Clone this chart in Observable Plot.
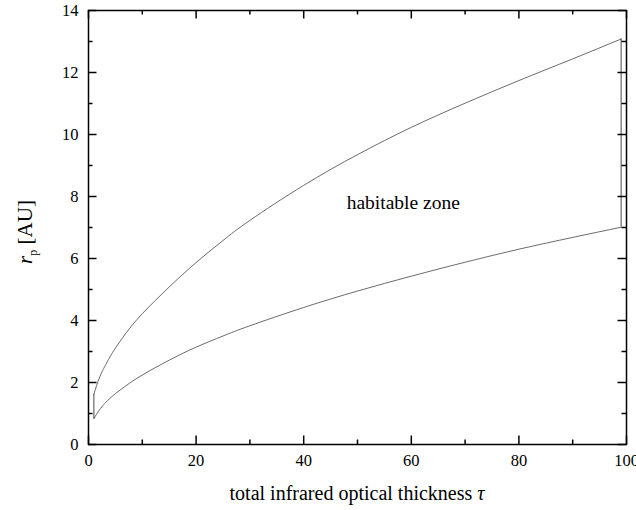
<!DOCTYPE html>
<html><head><meta charset="utf-8">
<script src="https://cdn.jsdelivr.net/npm/d3@7"></script>
<script src="https://cdn.jsdelivr.net/npm/@observablehq/plot@0.6"></script>
<style>body{margin:0;background:#fff}</style>
</head><body><div id="chart"></div>
<script>
// optical thickness samples
const tau = [1, 1.5, 2, 2.5, 3, 4, 5, 7, 10, 15, 20, 25, 30, 40, 50, 60, 70, 80, 90, 99];
// outer (upper) edge of habitable zone [AU]
const rOuter = [1.62, 1.90, 2.14, 2.34, 2.51, 2.83, 3.11, 3.60, 4.22, 5.08, 5.87, 6.58, 7.23, 8.36, 9.35, 10.23, 11.01, 11.74, 12.44, 13.08];
// inner (lower) edge of habitable zone [AU]
const rInner = [0.83, 0.98, 1.11, 1.22, 1.32, 1.49, 1.64, 1.90, 2.24, 2.72, 3.14, 3.50, 3.83, 4.42, 4.95, 5.43, 5.88, 6.30, 6.68, 7.01];
const xMajor = [0, 20, 40, 60, 80, 100];
const xMinor = [10, 30, 50, 70, 90];
const yMajor = [0, 2, 4, 6, 8, 10, 12, 14];
const yMinor = [1, 3, 5, 7, 9, 11, 13];
const zoneLabel = [{tau: 58.5, r: 7.8, text: "habitable zone"}];
const xTitle = "total infrared optical thickness ";
const xSymbol = "τ";
const yTitleVar = "r";
const yTitleSub = "p";
const yTitleUnit = " [AU]";

const W = 636, H = 510, mL = 88, mR = 10, mT = 10, mB = 66;
const pw = W - mL - mR, ph = H - mT - mB;
const major = 8.5, minor = 4.5;
const outer = tau.map((t, i) => ({tau: t, r: rOuter[i]}));
const inner = tau.map((t, i) => ({tau: t, r: rInner[i]}));
const ends = [0, tau.length - 1].map(i => ({tau: tau[i], lo: rInner[i], hi: rOuter[i]}));
const lineColor = "#5a5a5a";
const font = "'Liberation Serif', 'Times New Roman', serif";

const chart = Plot.plot({
  width: W, height: H,
  marginLeft: mL, marginRight: mR, marginTop: mT, marginBottom: mB,
  style: {fontFamily: font, fontSize: "16.5px", color: "#000", background: "#fff"},
  x: {domain: [0, 100]},
  y: {domain: [0, 14]},
  marks: [
    Plot.line(outer, {x: "tau", y: "r", stroke: lineColor, strokeWidth: 0.9, curve: "natural"}),
    Plot.line(inner, {x: "tau", y: "r", stroke: lineColor, strokeWidth: 0.9, curve: "natural"}),
    Plot.ruleX(ends, {x: "tau", y1: "lo", y2: "hi", stroke: "#333", strokeWidth: 0.9}),
    Plot.text(zoneLabel, {x: "tau", y: "r", text: "text", fontSize: 19.5, fill: "#000"}),
    // inward ticks: bottom
    Plot.tickX(xMajor, {x: d => d, insetTop: ph - major, stroke: "#000", strokeWidth: 1.5}),
    Plot.tickX(xMinor, {x: d => d, insetTop: ph - minor, stroke: "#000", strokeWidth: 1.5}),
    // top
    Plot.tickX(xMajor, {x: d => d, insetBottom: ph - major, stroke: "#000", strokeWidth: 1.5}),
    Plot.tickX(xMinor, {x: d => d, insetBottom: ph - minor, stroke: "#000", strokeWidth: 1.5}),
    // left
    Plot.tickY(yMajor, {y: d => d, insetRight: pw - major, stroke: "#000", strokeWidth: 1.5}),
    Plot.tickY(yMinor, {y: d => d, insetRight: pw - minor, stroke: "#000", strokeWidth: 1.5}),
    // right
    Plot.tickY(yMajor, {y: d => d, insetLeft: pw - major, stroke: "#000", strokeWidth: 1.5}),
    Plot.tickY(yMinor, {y: d => d, insetLeft: pw - minor, stroke: "#000", strokeWidth: 1.5}),
    Plot.axisX(xMajor, {tickSize: 0, tickPadding: 10, label: null, fontSize: 16.5}),
    Plot.axisY(yMajor, {tickSize: 0, tickPadding: 10, label: null, fontSize: 16.5}),
    Plot.frame({stroke: "#000", strokeWidth: 1.5})
  ]
});
document.getElementById("chart").appendChild(chart);

const svg = d3.select(chart);
const xl = svg.append("text")
  .attr("x", mL + pw / 2).attr("y", 500)
  .attr("text-anchor", "middle")
  .attr("font-family", font).attr("font-size", 20).attr("fill", "#000");
xl.append("tspan").text(xTitle);
xl.append("tspan").attr("font-style", "italic").text(xSymbol);

const yl = svg.append("text")
  .attr("transform", `translate(32,232) rotate(-90)`)
  .attr("text-anchor", "middle")
  .attr("font-family", font).attr("font-size", 21).attr("fill", "#000");
yl.append("tspan").attr("font-style", "italic").text(yTitleVar);
yl.append("tspan").attr("font-size", 12).attr("dy", 5).text(yTitleSub);
yl.append("tspan").attr("dy", -5).text(yTitleUnit);
</script>
</body></html>
